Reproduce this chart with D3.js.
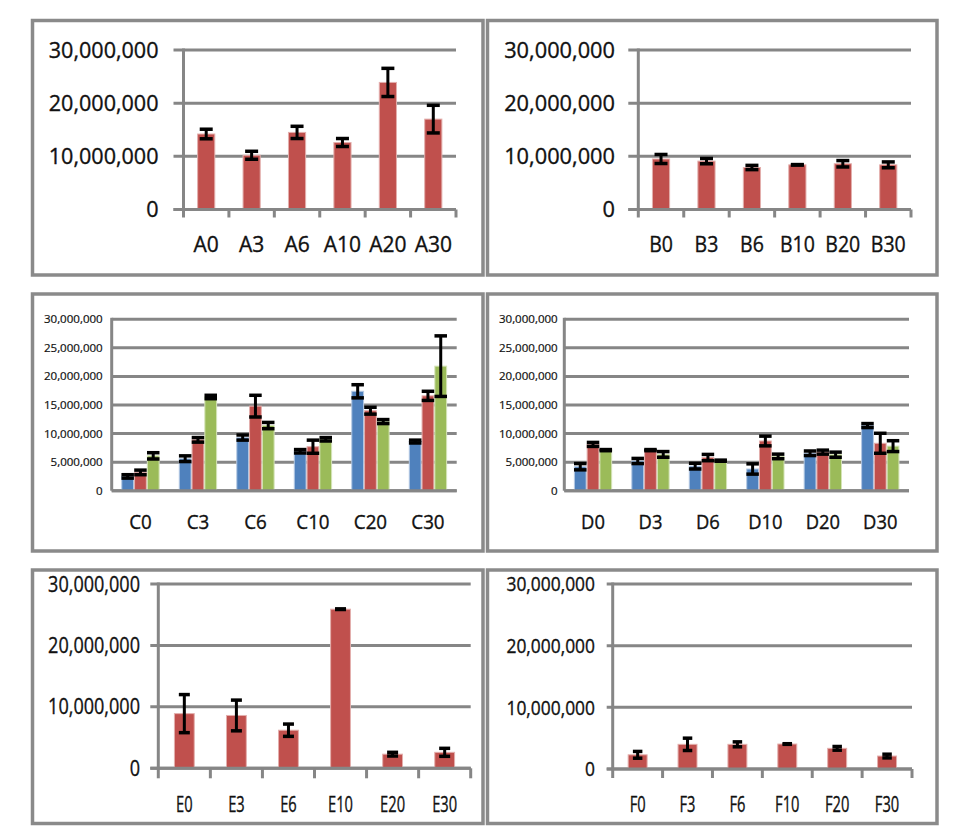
<!DOCTYPE html>
<html><head><meta charset="utf-8">
<script src="https://cdn.jsdelivr.net/npm/d3@7"></script>
<style>body{margin:0;background:#fff}svg{display:block}</style></head>
<body><svg id="chart" width="963" height="832"></svg>
<script>
// ---------- DATA ----------
const catsA = ["A0","A3","A6","A10","A20","A30"];
const valsA = [14200000,10200000,14500000,12600000,23900000,17000000];
const errA  = [900000,750000,1150000,750000,2650000,2600000];

const catsB = ["B0","B3","B6","B10","B20","B30"];
const valsB = [9500000,9100000,7900000,8400000,8600000,8400000];
const errB  = [850000,500000,400000,50000,600000,550000];

const catsC = ["C0","C3","C6","C10","C20","C30"];
const valsCBlue  = [2500000,5600000,9300000,6900000,17400000,8600000];
const errCBlue   = [300000,500000,450000,300000,1150000,250000];
const valsCRed   = [3200000,8900000,14800000,7700000,14000000,16600000];
const errCRed    = [400000,400000,1900000,1150000,600000,800000];
const valsCGreen = [6100000,16400000,11400000,9000000,12100000,21800000];
const errCGreen  = [550000,300000,550000,300000,350000,5300000];

const catsD = ["D0","D3","D6","D10","D20","D30"];
const valsDBlue  = [4200000,5200000,4300000,3800000,6550000,11400000];
const errDBlue   = [550000,450000,500000,900000,400000,350000];
const valsDRed   = [8100000,7100000,5800000,8700000,6750000,8300000];
const errDRed    = [350000,100000,550000,850000,350000,1750000];
const valsDGreen = [7100000,6350000,5250000,6000000,6300000,7800000];
const errDGreen  = [100000,500000,100000,400000,450000,950000];

const catsE = ["E0","E3","E6","E10","E20","E30"];
const valsE = [8900000,8600000,6200000,25900000,2300000,2600000];
const errE  = [3100000,2500000,1000000,50000,300000,650000];

const catsF = ["F0","F3","F6","F10","F20","F30"];
const valsF = [2300000,4000000,4000000,4050000,3350000,2100000];
const errF  = [550000,1000000,400000,50000,300000,300000];

const ticks10M = [0,10000000,20000000,30000000];
const ticks5M  = [0,5000000,10000000,15000000,20000000,25000000,30000000];

// ---------- STYLE ----------
const RED = {fill:"#C0504D", edge:"#E3AFAD"};
const BLUE = {fill:"#4F81BD", edge:"#B3C8E3"};
const GREEN = {fill:"#9BBB59", edge:"#D5E4B8"};
const GRID = "#868686";
const FONT = "'Open Sans', 'Liberation Sans', Arial, sans-serif";

const panels = [
  {cats:catsA, series:[{v:valsA,e:errA,c:RED}], ticks:ticks10M,
   frame:[32.5,20.5,483,275], plot:[183.5,456,50,209.5],
   yFont:22, ySx:0.98, yRight:158.5, xFont:21, xSx:1, xBase:252, tickOut:10, xTick:8, capW:13},
  {cats:catsB, series:[{v:valsB,e:errB,c:RED}], ticks:ticks10M,
   frame:[487.5,20.5,937,275], plot:[638.3,911,50,209.5],
   yFont:22, ySx:0.99, yRight:615, xFont:21, xSx:0.93, xBase:252, tickOut:10, xTick:8, capW:13},
  {cats:catsC, series:[{v:valsCBlue,e:errCBlue,c:BLUE},{v:valsCRed,e:errCRed,c:RED},{v:valsCGreen,e:errCGreen,c:GREEN}], ticks:ticks5M,
   frame:[32.5,294,483,551], plot:[111.7,456.7,319.3,490.7],
   yFont:11, ySx:1.05, yRight:102.7, xFont:20, xSx:0.94, xBase:529, tickOut:0, xTick:0, capW:12.5},
  {cats:catsD, series:[{v:valsDBlue,e:errDBlue,c:BLUE},{v:valsDRed,e:errDRed,c:RED},{v:valsDGreen,e:errDGreen,c:GREEN}], ticks:ticks5M,
   frame:[487.5,294,937,551], plot:[564.3,909,319.3,490.7],
   yFont:11, ySx:1.05, yRight:557.7, xFont:20, xSx:0.92, xBase:529, tickOut:0, xTick:0, capW:12.5},
  {cats:catsE, series:[{v:valsE,e:errE,c:RED}], ticks:ticks10M,
   frame:[32.5,570,483,823.5], plot:[158.3,470.7,584,768.3],
   yFont:21, ySx:0.86, yRight:140, xFont:21, xSx:0.7, xBase:812, tickOut:8, xTick:10, capW:11},
  {cats:catsF, series:[{v:valsF,e:errF,c:RED}], ticks:ticks10M,
   frame:[487.5,570,937,823.5], plot:[612.7,912,584,769],
   yFont:20, ySx:0.87, yRight:595, xFont:21, xSx:0.7, xBase:812, tickOut:6, xTick:9, capW:9.5}
];

const svg = d3.select("#chart");
const fmt = d3.format(",");

panels.forEach(p => {
  const g = svg.append("g");
  const [fx0,fy0,fx1,fy1] = p.frame;
  const [left,right,top,bottom] = p.plot;

  g.append("rect").attr("x",fx0).attr("y",fy0).attr("width",fx1-fx0).attr("height",fy1-fy0)
    .attr("fill","#fff").attr("stroke","#8a8a8a").attr("stroke-width",3.5);

  const y = d3.scaleLinear().domain([0,30000000]).range([bottom,top]);
  const x = d3.scaleBand().domain(p.cats).range([left,right]).padding(0);
  const sx = d3.scaleBand().domain(d3.range(p.series.length)).range([0,x.bandwidth()])
    .paddingInner(0).paddingOuter(0.75);

  // gridlines
  g.selectAll(".grid").data(p.ticks).join("line")
    .attr("x1",left - p.tickOut).attr("x2",right)
    .attr("y1",d=>y(d)).attr("y2",d=>y(d))
    .attr("stroke",GRID).attr("stroke-width",3);

  // y labels
  g.selectAll(".yl").data(p.ticks).join("text")
    .attr("transform",d=>`translate(${p.yRight},${y(d)}) scale(${p.ySx},1)`)
    .attr("dy","0.36em").attr("text-anchor","end")
    .attr("font-family",FONT).attr("font-size",p.yFont).attr("fill","#111")
    .attr("stroke","#111").attr("stroke-width",p.yFont > 15 ? 0.35 : 0.2)
    .text(d=>fmt(d));

  // bars
  p.series.forEach((s,si) => {
    g.selectAll(null).data(p.cats).join("rect")
      .attr("x",(d,i)=>x(d)+sx(si)+0.5)
      .attr("width",sx.bandwidth()-1)
      .attr("y",(d,i)=>y(s.v[i]))
      .attr("height",(d,i)=>y(0)-y(s.v[i]))
      .attr("fill",s.c.fill).attr("stroke",s.c.edge).attr("stroke-width",1);
  });

  // baseline + y axis line
  g.append("line").attr("x1",left - p.tickOut).attr("x2",right)
    .attr("y1",y(0)).attr("y2",y(0)).attr("stroke",GRID).attr("stroke-width",3);
  g.append("line").attr("x1",left).attr("x2",left)
    .attr("y1",y(30000000)-1.5).attr("y2",y(0)+p.xTick)
    .attr("stroke",GRID).attr("stroke-width",3);

  // x tick marks
  if (p.xTick > 0) {
    const bounds = p.cats.map(d=>x(d)).concat([right]);
    g.selectAll(".xt").data(bounds.slice(1)).join("line")
      .attr("x1",d=>d).attr("x2",d=>d).attr("y1",y(0)).attr("y2",y(0)+p.xTick)
      .attr("stroke",GRID).attr("stroke-width",3);
  }

  // error bars
  p.series.forEach((s,si) => {
    p.cats.forEach((d,i) => {
      const cx = x(d)+sx(si)+sx.bandwidth()/2;
      const hi = y(s.v[i]+s.e[i]), lo = y(s.v[i]-s.e[i]);
      g.append("line").attr("x1",cx).attr("x2",cx).attr("y1",hi).attr("y2",lo)
        .attr("stroke","#000").attr("stroke-width",3);
      [hi,lo].forEach(yy => g.append("line")
        .attr("x1",cx-p.capW/2).attr("x2",cx+p.capW/2).attr("y1",yy).attr("y2",yy)
        .attr("stroke","#000").attr("stroke-width",3.5));
    });
  });

  // x labels
  g.selectAll(".xl").data(p.cats).join("text")
    .attr("transform",d=>`translate(${x(d)+x.bandwidth()/2},${p.xBase}) scale(${p.xSx},1)`)
    .attr("text-anchor","middle")
    .attr("font-family",FONT).attr("font-size",p.xFont).attr("fill","#111")
    .attr("stroke","#111").attr("stroke-width",0.35)
    .text(d=>d);
});
</script>
</body></html>
